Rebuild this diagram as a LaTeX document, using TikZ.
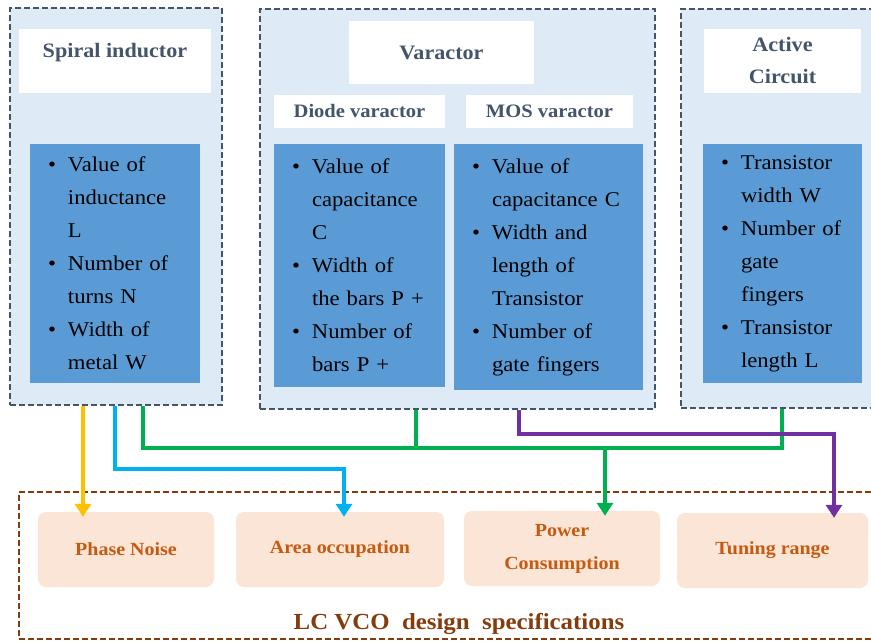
\documentclass[tikz,border=0pt]{standalone}
\usepackage{fontspec}
\setmainfont{Liberation Serif}[FakeStretch=1.08]
\usetikzlibrary{arrows.meta,positioning}
\definecolor{frameblue}{HTML}{44546A}
\definecolor{paleblue}{HTML}{DEEBF7}
\definecolor{listblue}{HTML}{5B9BD5}
\definecolor{peach}{HTML}{FBE5D6}
\definecolor{rust}{HTML}{C55A11}
\definecolor{darkrust}{HTML}{843C0C}
\definecolor{noiseyellow}{HTML}{FFC000}
\definecolor{areacyan}{HTML}{00B0F0}
\definecolor{powergreen}{HTML}{00B050}
\definecolor{tunepurple}{HTML}{7030A0}
\newcommand{\lbul}[1]{\makebox[20pt][l]{\textbullet}#1}
\newcommand{\lcnt}[1]{\hspace*{20pt}#1}

\begin{document}
\begin{tikzpicture}
  [x=1pt,y=-1pt,
   block/.style={draw=frameblue,fill=paleblue,line width=1.8pt,dash pattern=on 6pt off 3pt,inner sep=0pt},
   head/.style={fill=white,text=frameblue,font=\bfseries\fontsize{20.5}{32}\selectfont,align=center,inner sep=0pt},
   subhead/.style={fill=white,text=frameblue,font=\bfseries\fontsize{19}{24}\selectfont,inner sep=0pt},
   items/.style={fill=listblue,inner xsep=18pt,inner ysep=0pt,font=\fontsize{21}{33}\selectfont,align=left},
   spec/.style={fill=peach,rounded corners=8pt,text=rust,font=\bfseries\fontsize{18.5}{33}\selectfont,align=center,minimum height=75pt,inner sep=0pt},
   wire/.style={line width=4pt},
   link/.style={wire,-{Triangle[width=16pt,length=13pt]}}]
  \useasboundingbox (0,0) rectangle (871,642);
  \clip (0,0) rectangle (871,642);

  \node[block,minimum width=212pt,minimum height=397pt] (sp) at (116,206.5) {};
  \node[block,minimum width=395pt,minimum height=400pt] (var) at (457.5,209) {};
  \node[block,minimum width=199pt,minimum height=399pt] (act) at (780.5,208.5) {};

  \node[head,minimum width=192pt,minimum height=64pt,text height=8pt,text depth=14pt] (sphead) at (115,61) {Spiral inductor};
  \node[head,minimum width=185pt,minimum height=63pt] (varhead) at (441.5,52.5) {Varactor};
  \node[subhead,minimum width=171pt,minimum height=33pt] (diohead) at (359.5,111.5) {Diode varactor};
  \node[subhead,minimum width=167pt,minimum height=33pt] (moshead) at (549.5,111.5) {MOS varactor};
  \node[head,minimum width=157pt,minimum height=64pt] (acthead) at (782.5,61) {Active\\Circuit};

  \node[items,minimum width=170pt,minimum height=239pt,text width=134pt] (splist) at (115,263.5)
    {\lbul{Value of}\\ \lcnt{inductance}\\ \lcnt{L}\\ \lbul{Number of}\\ \lcnt{turns N}\\ \lbul{Width of}\\ \lcnt{metal W}};
  \node[items,minimum width=171pt,minimum height=243pt,text width=135pt] (diolist) at (359.5,265.5)
    {\lbul{Value of}\\ \lcnt{capacitance}\\ \lcnt{C}\\ \lbul{Width of}\\ \lcnt{the bars P +}\\ \lbul{Number of}\\ \lcnt{bars P +}};
  \node[items,minimum width=189pt,minimum height=246pt,text width=153pt] (moslist) at (548.5,267)
    {\lbul{Value of}\\ \lcnt{capacitance C}\\ \lbul{Width and}\\ \lcnt{length of}\\ \lcnt{Transistor}\\ \lbul{Number of}\\ \lcnt{gate fingers}};
  \node[items,minimum width=159pt,minimum height=239pt,text width=123pt] (actlist) at (782.5,263.5)
    {\lbul{Transistor}\\ \lcnt{width W}\\ \lbul{Number of}\\ \lcnt{gate}\\ \lcnt{fingers}\\ \lbul{Transistor}\\ \lcnt{length L}};

  \node[draw=darkrust,line width=1.8pt,dash pattern=on 6pt off 3pt,minimum width=861pt,minimum height=147pt,inner sep=0pt] (specs) at (449.5,565.5) {};
  \node[text=darkrust,font=\bfseries\fontsize{23}{26}\selectfont,anchor=base] (specname) at (459,629) {LC VCO\ \ design\ \ specifications};

  \foreach \nm/\cx/\cy/\w/\txt in {pn/126/549.5/176/Phase Noise,ao/340/549.5/208/Area occupation,
    pc/562/548.5/196/{Power\\Consumption},tr/772.5/550.5/191/Tuning range}
    \node[spec,minimum width=\w pt] (\nm) at (\cx,\cy) {\txt};

  \draw[link,noiseyellow] (83,0 |- sp.south) -- ([yshift=-5pt]83,0 |- pn.north);
  \draw[link,areacyan] (115,0 |- sp.south) |- (344,469) -- ([yshift=-5pt]344,0 |- ao.north);
  \draw[link,powergreen] (143,0 |- sp.south) |- (605,448) -- ([yshift=-5pt]605,0 |- pc.north);
  \draw[wire,powergreen] (416,0 |- var.south) -- (416,448);
  \draw[wire,powergreen] (782,0 |- act.south) |- (605,448);
  \draw[link,tunepurple] (519,0 |- var.south) |- (834,434) -- ([yshift=-5pt]834,0 |- tr.north);
\end{tikzpicture}
\end{document}
